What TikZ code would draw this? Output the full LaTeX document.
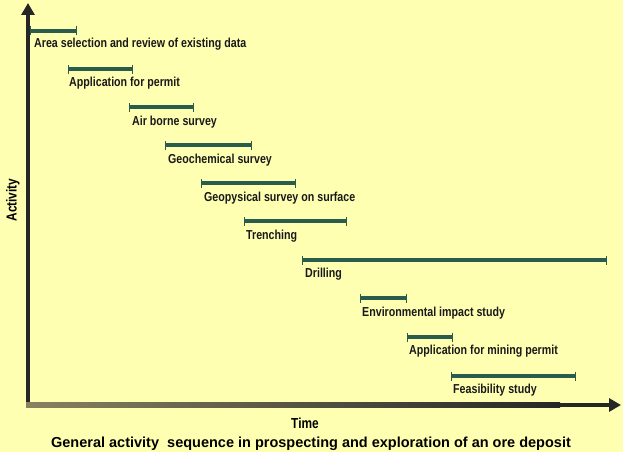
\documentclass[tikz,border=0pt]{standalone}
\usepackage{fontspec}
\newfontfamily\narrowfont[FakeStretch=0.82]{Liberation Sans}
\newfontfamily\capfont{Liberation Sans}
\usetikzlibrary{arrows.meta, positioning}
\definecolor{paper}{RGB}{255,255,178}
\definecolor{barcol}{RGB}{42,92,78}
\definecolor{axisgray}{RGB}{135,130,95}
\tikzset{
    bar/.style={draw=barcol, line width=3.5pt, {Bar[width=9pt,line width=1pt]}-{Bar[width=9pt,line width=1pt]}},
    act/.style={font=\narrowfont\bfseries\fontsize{13}{15}\selectfont, text=black!90, inner sep=0pt, anchor=base west},
    axis/.style={draw=black!85, line width=4.5pt, -{Triangle[width=13pt,length=12pt]}},
    axlabel/.style={font=\narrowfont\bfseries\fontsize{14.5}{16}\selectfont, inner sep=0pt},
    caption/.style={font=\capfont\bfseries\fontsize{14.5}{16}\selectfont, inner sep=0pt} }

\begin{document}
\begin{tikzpicture}[x=1pt, y=-1pt]
			\useasboundingbox[fill=paper] (0,0) rectangle (623,452);
			% axes
			\coordinate (O) at (28,407);
			\coordinate (ytop) at (28,3);
			\coordinate (xend) at (621,405);
			\coordinate (xfade) at (560,405);
			\draw[axis] (O) -- (ytop);
			\draw[axis] (26,405) -- (xend);
			\shade[left color=axisgray, right color=black!85] (26,402.75) rectangle (xfade |- 0,407.25);
			\node[axlabel, rotate=90] (ylab) at (13,200) {Activity};
			\node[axlabel, anchor=base] (xlab) at (305,428) {Time};
			\node[caption, anchor=base] (cap) at (311,447) {General activity\ \ sequence in prospecting and exploration of an ore deposit};
			% ----
			\coordinate (s1) at (30,31);   \coordinate (e1) at (77,31);
			\coordinate (s2) at (68,69);   \coordinate (e2) at (133,69);
			\coordinate (s3) at (129,107); \coordinate (e3) at (194,107);
			\coordinate (s4) at (165,145); \coordinate (e4) at (252,145);
			\coordinate (s5) at (201,183); \coordinate (e5) at (296,183);
			\coordinate (s6) at (244,221); \coordinate (e6) at (347,221);
			\coordinate (s7) at (302,260); \coordinate (e7) at (607,260);
			\coordinate (s8) at (360,298); \coordinate (e8) at (407,298);
			\coordinate (s9) at (407,337); \coordinate (e9) at (453,337);
			\coordinate (s10) at (451,376); \coordinate (e10) at (576,376);
			% ----
			\draw[bar] (s1) -- (e1);
			\draw[bar] (s2) -- (e2);
			\draw[bar] (s3) -- (e3);
			\draw[bar] (s4) -- (e4);
			\draw[bar] (s5) -- (e5);
			\draw[bar] (s6) -- (e6);
			\draw[bar] (s7) -- (e7);
			\draw[bar] (s8) -- (e8);
			\draw[bar] (s9) -- (e9);
			\draw[bar] (s10) -- (e10);
			% ----
			\node[act] (area) at (34,48) {Area selection and review of existing data};
			\node[act] (permit) at (69,86) {Application for permit};
			\node[act] (air) at (132,125) {Air borne survey};
			\node[act] (geochem) at (168,163) {Geochemical survey};
			\node[act] (geophys) at (204,201) {Geopysical survey on surface};
			\node[act] (trench) at (246,239) {Trenching};
			\node[act] (drill) at (305,277) {Drilling};
			\node[act] (env) at (362,316) {Environmental impact study};
			\node[act] (mining) at (409,354) {Application for mining permit};
			\node[act] (feas) at (453,393) {Feasibility study};
		\end{tikzpicture}
\end{document}
